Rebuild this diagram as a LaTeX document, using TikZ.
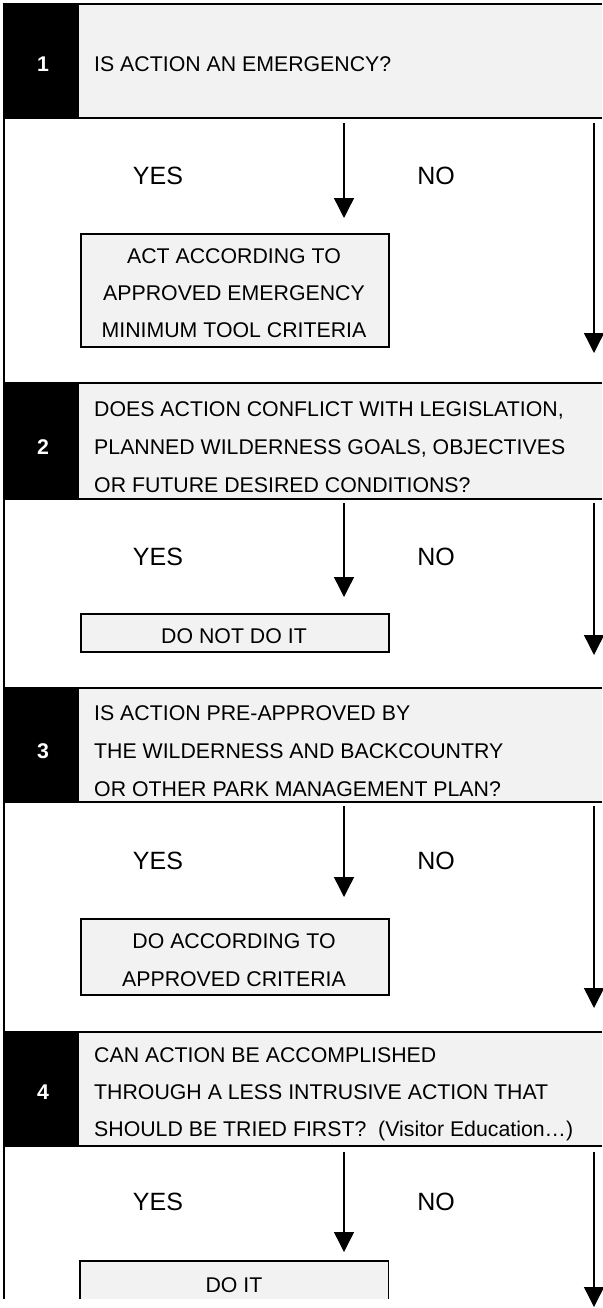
\documentclass[tikz,border=0pt]{standalone}
\usepackage{fontspec}
\setmainfont{Liberation Sans}
\usetikzlibrary{arrows.meta}
\definecolor{hgrey}{HTML}{F2F2F2}
\begin{document}
\begin{tikzpicture}[x=1pt,y=-1pt,
  band/.style={fill=hgrey, draw=none, inner sep=0pt, anchor=north west, minimum width=523pt},
  numbox/.style={fill=black, draw=none, inner sep=0pt, anchor=north west, minimum width=76pt},
  numtxt/.style={text=white, anchor=base, inner sep=0pt, font=\fontsize{21.3pt}{26pt}\selectfont\bfseries},
  qtxt/.style={anchor=base west, inner sep=0pt, font=\fontsize{21.3pt}{26pt}\selectfont},
  btxt/.style={anchor=base, inner sep=0pt, font=\fontsize{21.3pt}{26pt}\selectfont},
  yn/.style={anchor=base, inner sep=0pt, font=\fontsize{25pt}{30pt}\selectfont},
  actbox/.style={draw=black, fill=hgrey, line width=1.5pt, inner sep=0pt, anchor=north west, minimum width=308pt},
  openbox/.style={fill=hgrey, draw=none, inner sep=0pt, anchor=north west, minimum width=308pt},
  boxline/.style={line width=1.5pt},
  rule/.style={line width=2pt},
  arr/.style={line width=1.4pt, -{Triangle[width=20pt,length=20pt]}}
]
\useasboundingbox (0,0) rectangle (602,1308);

% ---------- header bands ----------
\node[band, minimum height=114pt] (h1) at (79,4) {};
\node[numbox, minimum height=114pt] (n1) at (3,4) {};
\node[band, minimum height=116pt] (h2) at (79,383) {};
\node[numbox, minimum height=116pt] (n2) at (3,383) {};
\node[band, minimum height=114pt] (h3) at (79,688) {};
\node[numbox, minimum height=114pt] (n3) at (3,688) {};
\node[band, minimum height=114pt] (h4) at (79,1032) {};
\node[numbox, minimum height=114pt] (n4) at (3,1032) {};

\draw[rule] (n1.north west) -- (h1.north east);
\draw[rule] (n1.south west) -- (h1.south east);
\draw[rule] (n2.north west) -- (h2.north east);
\draw[rule] (n2.south west) -- (h2.south east);
\draw[rule] (n3.north west) -- (h3.north east);
\draw[rule] (n3.south west) -- (h3.south east);
\draw[rule] (n4.north west) -- (h4.north east);
\draw[rule] (n4.south west) -- (h4.south east);

% left frame
\coordinate (ftop) at (4,3);
\coordinate (fbot) at (4,1299);
\draw[rule] (ftop) -- (fbot);

% ---------- section 1 ----------
\node[numtxt] (t1) at (43,72) {1};
\node[qtxt] (q1) at (94,72) {IS ACTION AN EMERGENCY?};
\node[yn] (yes1) at (158,185) {YES};
\node[yn] (no1) at (436,185) {NO};
\node[actbox, minimum height=113pt] (b1) at (80,233) {};
\node[btxt] (b1a) at (234,263) {ACT ACCORDING TO};
\node[btxt] (b1b) at (234,300) {APPROVED EMERGENCY};
\node[btxt] (b1c) at (234,337) {MINIMUM TOOL CRITERIA};
\coordinate (m1s) at (344,123); \coordinate (m1e) at (344,218);
\coordinate (r1s) at (594,123); \coordinate (r1e) at (594,353);
\draw[arr] (m1s) -- (m1e);
\draw[arr] (r1s) -- (r1e);

% ---------- section 2 ----------
\node[numtxt] (t2) at (43,454) {2};
\node[qtxt] (q2a) at (94,416) {DOES ACTION CONFLICT WITH LEGISLATION,};
\node[qtxt] (q2b) at (94,454) {PLANNED WILDERNESS GOALS, OBJECTIVES};
\node[qtxt] (q2c) at (94,492) {OR FUTURE DESIRED CONDITIONS?};
\node[yn] (yes2) at (158,565) {YES};
\node[yn] (no2) at (436,565) {NO};
\node[actbox, minimum height=38pt] (b2) at (80,613) {};
\node[btxt] (b2a) at (234,643) {DO NOT DO IT};
\coordinate (m2s) at (344,503); \coordinate (m2e) at (344,597);
\coordinate (r2s) at (594,503); \coordinate (r2e) at (594,655);
\draw[arr] (m2s) -- (m2e);
\draw[arr] (r2s) -- (r2e);

% ---------- section 3 ----------
\node[numtxt] (t3) at (43,758) {3};
\node[qtxt] (q3a) at (94,720) {IS ACTION PRE-APPROVED BY};
\node[qtxt] (q3b) at (94,758) {THE WILDERNESS AND BACKCOUNTRY};
\node[qtxt] (q3c) at (94,796) {OR OTHER PARK MANAGEMENT PLAN?};
\node[yn] (yes3) at (158,869) {YES};
\node[yn] (no3) at (436,869) {NO};
\node[actbox, minimum height=76pt] (b3) at (80,918) {};
\node[btxt] (b3a) at (234,948) {DO ACCORDING TO};
\node[btxt] (b3b) at (234,986) {APPROVED CRITERIA};
\coordinate (m3s) at (344,806); \coordinate (m3e) at (344,897);
\coordinate (r3s) at (594,806); \coordinate (r3e) at (594,1008);
\draw[arr] (m3s) -- (m3e);
\draw[arr] (r3s) -- (r3e);

% ---------- section 4 ----------
\node[numtxt] (t4) at (43,1099) {4};
\node[qtxt] (q4a) at (94,1062) {CAN ACTION BE ACCOMPLISHED};
\node[qtxt] (q4b) at (94,1099) {THROUGH A LESS INTRUSIVE ACTION THAT};
\node[qtxt] (q4c) at (94,1136) {SHOULD BE TRIED FIRST?\ \ (Visitor Education\ldots)};
\node[yn] (yes4) at (158,1210) {YES};
\node[yn] (no4) at (436,1210) {NO};
\node[openbox, minimum height=38pt] (b4) at (80,1261) {};
\draw[boxline] (b4.south west) -- (b4.north west) -- (b4.north east) -- (b4.south east);
\node[btxt] (b4a) at (234,1292) {DO IT};
\coordinate (m4s) at (344,1152); \coordinate (m4e) at (344,1252);
\coordinate (r4s) at (594,1152); \coordinate (r4e) at (594,1307);
\draw[arr] (m4s) -- (m4e);
\draw[arr] (r4s) -- (r4e);
\end{tikzpicture}
\end{document}
